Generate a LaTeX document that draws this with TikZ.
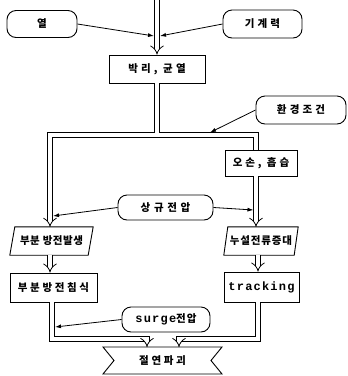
\documentclass[tikz,border=0pt]{standalone}
\usepackage{fontspec}
\usetikzlibrary{arrows.meta}
\newfontfamily\krfam{Noto Sans CJK KR}
\newfontfamily\monofam{Liberation Mono}[LetterSpace=10]
\newcommand\kt[1]{\krfam\bfseries\fontsize{10.5pt}{12pt}\selectfont\addfontfeature{LetterSpace=#1}}
\newcommand\mtxt{\monofam\bfseries\fontsize{12pt}{13pt}\selectfont}
\tikzset{
  rbox/.style={draw, rounded corners=9pt, line width=0.9pt, inner sep=0pt},
  sbox/.style={draw, line width=0.9pt, inner sep=0pt},
  plainbox/.style={inner sep=0pt},
  dbl/.style={double, double distance=4pt, line width=0.8pt},
  dblar/.style={dbl, -{Implies}},
  sar/.style={line width=0.8pt, -{Latex[length=6pt,width=4pt]}},
  edge/.style={line width=0.9pt},
}
\begin{document}
\begin{tikzpicture}[x=1pt,y=-1pt]
\useasboundingbox (0,0) rectangle (348,376);
% nodes
\node[rbox, minimum width=70pt, minimum height=27pt] (yeol) at (42,24) {\kt{30}열};
\node[rbox, minimum width=79pt, minimum height=28pt] (gigye) at (262.5,24) {\kt{30}기계력};
\node[sbox, minimum width=96pt, minimum height=28pt] (bakri) at (157,69) {\kt{30}박리, 균열};
\node[rbox, minimum width=90pt, minimum height=28pt] (hwan) at (301,110) {\kt{30}환경조건};
\node[sbox, minimum width=72pt, minimum height=26pt] (oson) at (261,163) {\kt{28}오손, 흡습};
\node[rbox, minimum width=95pt, minimum height=25pt] (sang) at (165.5,207.5) {\kt{35}상규전압};
\node[plainbox, minimum width=78pt, minimum height=28pt] (p1) at (51.5,241) {\kt{5}부분 방전발생};
\node[plainbox, minimum width=70pt, minimum height=28pt] (p2) at (261,241) {\kt{8}누설전류증대};
\node[sbox, minimum width=87pt, minimum height=29pt] (bub) at (53.5,287.5) {\kt{25}부분방전침식};
\node[sbox, minimum width=75pt, minimum height=30pt] (track) at (261.5,287) {\mtxt tracking};
\node[rbox, minimum width=88pt, minimum height=25pt] (surge) at (166,319.5) {\mtxt surge\kt{10}전압};
\node[plainbox] (jeol) at (162.5,360.5) {\kt{25}절연파괴};
% shapes
\draw[edge] ([xshift=-2.5pt]p1.south west) -- ([xshift=2.5pt]p1.north west) -- ([xshift=2.5pt]p1.north east) -- ([xshift=-2.5pt]p1.south east) -- cycle;
\draw[edge] ([xshift=-2pt]p2.south west) -- ([xshift=2pt]p2.north west) -- ([xshift=2pt]p2.north east) -- ([xshift=-2pt]p2.south east) -- cycle;
\draw[edge] (103,347) -- (222,347) -- (211,360.5) -- (222,374) -- (103,374) -- (114,360.5) -- cycle;
% coordinates
\coordinate (top) at (157,0);
\coordinate (j1) at (154,36);
\coordinate (j2) at (160,36);
\coordinate (barL) at (50,135);
\coordinate (barR) at (256,135);
\coordinate (tj) at (157,133.2);
\coordinate (h1) at (210,132.5);
\coordinate (s1) at (53,216);
\coordinate (s2) at (253.5,210);
\coordinate (lx) at (52,0);
\coordinate (rx) at (258,0);
\coordinate (bL) at (147,339);
\coordinate (bR) at (179,339);
\coordinate (jt) at (0,347);
\coordinate (u1) at (55,327);
% connectors
\draw[dblar] (top) -- (bakri.north);
\draw[sar] (yeol.east) -- (j1);
\draw[sar] (gigye.west) -- (j2);
\draw[dbl, {Implies}-] (p1.north -| barL) -- (barL) -- (barR) -- (oson.north -| barR);
\draw[dbl] (bakri.south) -- (tj);
\draw[sar] (hwan.west) -- (h1);
\draw[dblar] (oson.south -| barR) -- (p2.north -| barR);
\draw[sar] (sang.west) -- (s1);
\draw[sar] (sang.east) -- (s2);
\draw[dblar] (p1.south -| barL) -- (bub.north -| barL);
\draw[dblar] (p2.south -| rx) -- (track.north -| rx);
\draw[dblar] (bub.south -| lx) |- (bL) -- (bL |- jt);
\draw[dblar] (track.south -| rx) |- (bR) -- (bR |- jt);
\draw[sar] (surge.west) -- (u1);
\end{tikzpicture}
\end{document}
